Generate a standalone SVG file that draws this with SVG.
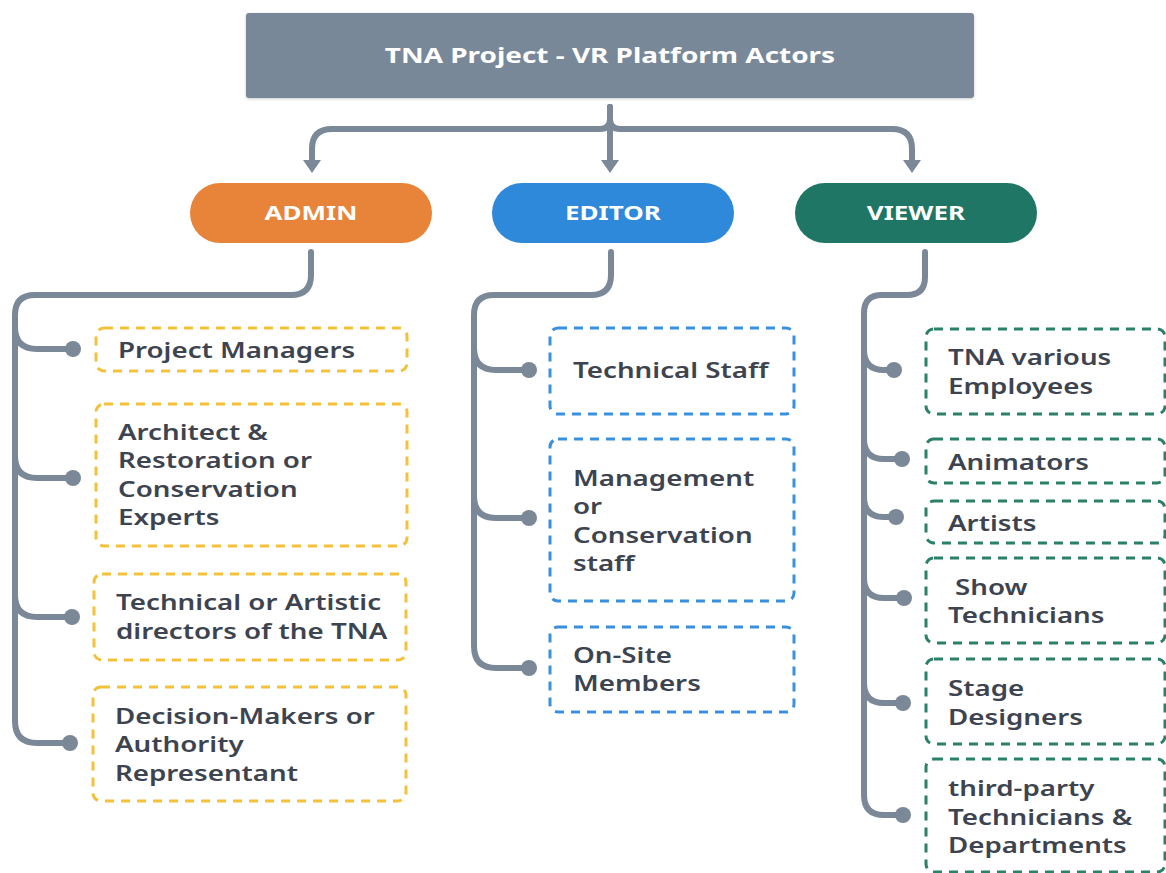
<svg xmlns="http://www.w3.org/2000/svg" width="1166" height="873" viewBox="0 0 1166 873">
<defs>
<style>
.bg{fill:#ffffff}
.title{fill:#798898}
.pill-t{font-family:"Noto Sans","Liberation Sans",sans-serif;font-weight:700;font-size:20px;fill:#ffffff;text-anchor:middle;transform-box:fill-box;transform-origin:50% 50%;transform:scaleX(1.3)}
.ttl{font-family:"Noto Sans","Liberation Sans",sans-serif;font-weight:700;font-size:22px;fill:#ffffff;text-anchor:middle;transform-box:fill-box;transform-origin:50% 50%;transform:scaleX(1.27)}
.lbl{font-family:"Noto Sans","Liberation Sans",sans-serif;font-weight:600;font-size:22px;fill:#3d4450;transform-box:fill-box;transform-origin:0 0;transform:scaleX(1.26)}
.yel{fill:#ffffff;stroke:#f4c23a;stroke-width:3;stroke-dasharray:9 7}
.blu{fill:#ffffff;stroke:#3a90dd;stroke-width:3;stroke-dasharray:9 7}
.grn{fill:#ffffff;stroke:#2a8068;stroke-width:3;stroke-dasharray:9 7}
.ln{fill:none;stroke:#7b8898;stroke-width:6;stroke-linecap:round;stroke-linejoin:round}
.dot{fill:#7b8898}
</style>
<marker id="arr" markerUnits="userSpaceOnUse" markerWidth="14" markerHeight="20" refX="0" refY="10" orient="auto" viewBox="0 0 14 20">
<path d="M0,1 L13,10 L0,19 Z" fill="#7b8898"/>
</marker>
<filter id="sh" x="-5%" y="-10%" width="110%" height="130%"><feDropShadow dx="0" dy="1" stdDeviation="1.5" flood-color="#000" flood-opacity="0.2"/></filter>
</defs>
<rect class="bg" x="0" y="0" width="1166" height="873"/>

<g id="connectors">
<path class="ln" d="M610,107 V119 Q610,129 600,129 H332 Q312,129 312,149 V160" marker-end="url(#arr)"/>
<path class="ln" d="M610,107 V119 Q610,129 620,129 H892 Q912,129 912,149 V160" marker-end="url(#arr)"/>
<path class="ln" d="M610,107 V160" marker-end="url(#arr)"/>
<path class="ln" d="M311,252 V275 Q311,295 291,295 H35 Q15,295 15,315 V721 Q15,743 37,743 H70"/>
<path class="ln" d="M15,327 Q15,349 37,349 H73"/>
<path class="ln" d="M15,456 Q15,478 37,478 H73"/>
<path class="ln" d="M15,595 Q15,617 37,617 H72"/>
<circle class="dot" cx="73" cy="349" r="8"/>
<circle class="dot" cx="73" cy="478" r="8"/>
<circle class="dot" cx="72" cy="617" r="8"/>
<circle class="dot" cx="70" cy="743" r="8"/>
<path class="ln" d="M611,252 V275 Q611,295 591,295 H494 Q474,295 474,315 V646 Q474,668 496,668 H528"/>
<path class="ln" d="M474,348 Q474,370 496,370 H528"/>
<path class="ln" d="M474,496 Q474,518 496,518 H528"/>
<circle class="dot" cx="529" cy="370" r="8"/>
<circle class="dot" cx="529" cy="518" r="8"/>
<circle class="dot" cx="529" cy="668" r="8"/>
<path class="ln" d="M925,252 V277 Q925,295 907,295 H882 Q864,295 864,313 V795 Q864,815 884,815 H903"/>
<path class="ln" d="M864,350 Q864,370 884,370 H894"/>
<path class="ln" d="M864,439 Q864,459 884,459 H902"/>
<path class="ln" d="M864,497 Q864,517 884,517 H896"/>
<path class="ln" d="M864,578 Q864,598 884,598 H904"/>
<path class="ln" d="M864,683 Q864,703 884,703 H903"/>
<circle class="dot" cx="894" cy="370" r="8"/>
<circle class="dot" cx="902" cy="459" r="8"/>
<circle class="dot" cx="896" cy="517" r="8"/>
<circle class="dot" cx="904" cy="598" r="8"/>
<circle class="dot" cx="903" cy="703" r="8"/>
<circle class="dot" cx="903" cy="815" r="8"/>
</g>

<g id="title">
<rect class="title" x="246" y="13" width="728" height="85" rx="3" filter="url(#sh)"/>
<text class="ttl" x="610" y="63">TNA Project - VR Platform Actors</text>
</g>

<g id="admin">
<rect x="190" y="183" width="242" height="60" rx="30" fill="#e8843a"/>
<text class="pill-t" x="311" y="220">ADMIN</text>
</g>
<g id="editor">
<rect x="492" y="183" width="242" height="60" rx="30" fill="#2e89da"/>
<text class="pill-t" x="613" y="220">EDITOR</text>
</g>
<g id="viewer">
<rect x="795" y="183" width="242" height="60" rx="30" fill="#1f7664"/>
<text class="pill-t" x="916" y="220">VIEWER</text>
</g>

<g id="admin-project-managers">
<rect class="yel" x="96" y="328" width="311" height="43" rx="8"/>
<text class="lbl" x="118" y="358">Project Managers</text>
</g>
<g id="admin-architect">
<rect class="yel" x="96" y="404" width="311" height="142" rx="8"/>
<text class="lbl" x="118" y="440">Architect &amp;</text>
<text class="lbl" x="118" y="468">Restoration or</text>
<text class="lbl" x="118" y="497">Conservation</text>
<text class="lbl" x="118" y="525">Experts</text>
</g>
<g id="admin-technical">
<rect class="yel" x="94" y="574" width="312" height="86" rx="8"/>
<text class="lbl" x="116" y="610">Technical or Artistic</text>
<text class="lbl" x="116" y="639">directors of the TNA</text>
</g>
<g id="admin-decision">
<rect class="yel" x="93" y="687" width="313" height="114" rx="8"/>
<text class="lbl" x="115" y="724">Decision-Makers or</text>
<text class="lbl" x="115" y="752">Authority</text>
<text class="lbl" x="115" y="781">Representant</text>
</g>

<g id="editor-technical-staff">
<rect class="blu" x="550" y="328" width="244" height="86" rx="8"/>
<text class="lbl" x="573" y="378">Technical Staff</text>
</g>
<g id="editor-management">
<rect class="blu" x="550" y="439" width="244" height="162" rx="8"/>
<text class="lbl" x="573" y="486">Management</text>
<text class="lbl" x="573" y="514">or</text>
<text class="lbl" x="573" y="543">Conservation</text>
<text class="lbl" x="573" y="571">staff</text>
</g>
<g id="editor-onsite">
<rect class="blu" x="550" y="627" width="244" height="85" rx="8"/>
<text class="lbl" x="573" y="663">On-Site</text>
<text class="lbl" x="573" y="691">Members</text>
</g>

<g id="viewer-tna-employees">
<rect class="grn" x="926" y="329" width="239" height="85" rx="8"/>
<text class="lbl" x="948" y="365">TNA various</text>
<text class="lbl" x="948" y="394">Employees</text>
</g>
<g id="viewer-animators">
<rect class="grn" x="926" y="439" width="239" height="44" rx="8"/>
<text class="lbl" x="948" y="470">Animators</text>
</g>
<g id="viewer-artists">
<rect class="grn" x="926" y="501" width="239" height="42" rx="8"/>
<text class="lbl" x="948" y="531">Artists</text>
</g>
<g id="viewer-show-technicians">
<rect class="grn" x="926" y="558" width="239" height="85" rx="8"/>
<text class="lbl" x="955" y="595">Show</text>
<text class="lbl" x="948" y="623">Technicians</text>
</g>
<g id="viewer-stage-designers">
<rect class="grn" x="926" y="659" width="239" height="85" rx="8"/>
<text class="lbl" x="948" y="696">Stage</text>
<text class="lbl" x="948" y="725">Designers</text>
</g>
<g id="viewer-third-party">
<rect class="grn" x="926" y="759" width="239" height="113" rx="8"/>
<text class="lbl" x="948" y="796">third-party</text>
<text class="lbl" x="948" y="825">Technicians &amp;</text>
<text class="lbl" x="948" y="853">Departments</text>
</g>
</svg>
